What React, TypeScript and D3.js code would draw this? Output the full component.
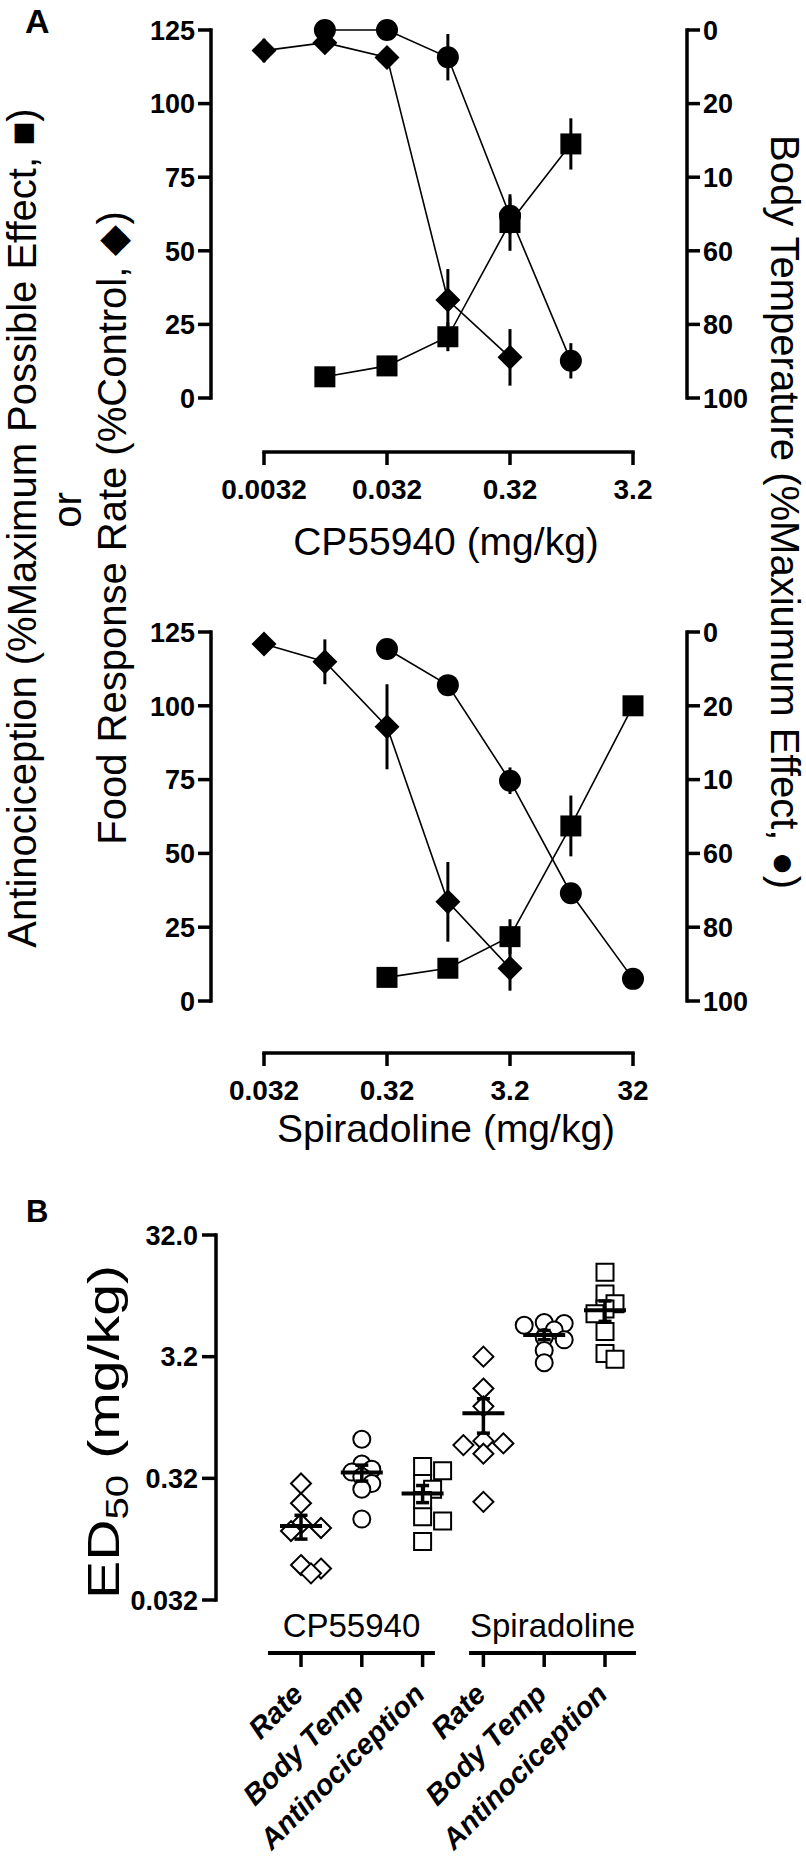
import React from 'react';
import * as d3 from 'd3';

// ---------- DATA ----------
// Panel A, top: CP55940
const cpRateDose = [0.0032, 0.01, 0.032, 0.1, 0.32];
const cpRateMean = [118, 120.7, 115.7, 33.3, 13.8];
const cpRateSem = [4, 2, 3, 10.5, 9.6];
const cpTempDose = [0.01, 0.032, 0.1, 0.32, 1.0];
const cpTempMean = [0, 0, 7.4, 50.5, 89.9];
const cpTempSem = [0, 0, 6.3, 5, 4.8];
const cpAntiDose = [0.01, 0.032, 0.1, 0.32, 1.0];
const cpAntiMean = [7.2, 10.9, 20.8, 59.6, 86.3];
const cpAntiSem = [1, 1, 4.9, 9.6, 8.7];

// Panel A, bottom: Spiradoline
const spRateDose = [0.032, 0.1, 0.32, 1.0, 3.2];
const spRateMean = [120.9, 114.9, 92.9, 33.6, 11.1];
const spRateSem = [1, 7.6, 14.4, 13.5, 7.6];
const spTempDose = [0.32, 1.0, 3.2, 10, 32];
const spTempMean = [4.6, 14.4, 40.3, 70.8, 94.0];
const spTempSem = [0, 0, 3.6, 0, 2];
const spAntiDose = [0.32, 1.0, 3.2, 10, 32];
const spAntiMean = [8.0, 11.1, 21.8, 59.3, 100];
const spAntiSem = [0, 0, 5.9, 10.3, 0];

const leftTicks = [0, 25, 50, 75, 100, 125];
const rightTicks = [0, 20, 40, 60, 80, 100];
const rightTickLabels = ['0', '20', '10', '60', '80', '100'];
const cpXTicks = [0.0032, 0.032, 0.32, 3.2];
const cpXTickLabels = ['0.0032', '0.032', '0.32', '3.2'];
const spXTicks = [0.032, 0.32, 3.2, 32];
const spXTickLabels = ['0.032', '0.32', '3.2', '32'];

// Panel B: individual ED50 values (mg/kg)
const edCategories = ['CP Rate', 'CP Body Temp', 'CP Antinociception', 'SP Rate', 'SP Body Temp', 'SP Antinociception'];
const edCategoryLabels = ['Rate', 'Body Temp', 'Antinociception', 'Rate', 'Body Temp', 'Antinociception'];
const edShapes = ['diamond', 'circle', 'square', 'diamond', 'circle', 'square'];
const edCpRate = [0.29, 0.2, 0.135, 0.125, 0.118, 0.062, 0.058, 0.053];
const edCpTemp = [0.67, 0.42, 0.38, 0.36, 0.33, 0.29, 0.26, 0.148];
const edCpAnti = [0.4, 0.37, 0.29, 0.26, 0.21, 0.155, 0.143, 0.097];
const edSpRate = [3.2, 1.75, 1.25, 0.65, 0.62, 0.6, 0.51, 0.205];
const edSpTemp = [6.1, 6.0, 5.8, 5.3, 4.6, 4.4, 3.6, 2.85];
const edSpAnti = [15.8, 10.5, 8.7, 7.9, 7.2, 5.15, 3.4, 3.05];
const edGroups = ['CP55940', 'Spiradoline'];
const edYTicks = [0.032, 0.32, 3.2, 32];
const edYTickLabels = ['0.032', '0.32', '3.2', '32.0'];

// ---------- STYLE ----------
const FONT = "'Liberation Sans', Arial, Helvetica, sans-serif";
const AX = 3.5;

function markerPath(shape: string, x: number, y: number, s: number) {
  if (shape === 'diamond') return `M${x},${y - s}L${x + s},${y}L${x},${y + s}L${x - s},${y}Z`;
  if (shape === 'square') return `M${x - s},${y - s}H${x + s}V${y + s}H${x - s}Z`;
  return `M${x - s},${y}A${s},${s} 0 1,0 ${x + s},${y}A${s},${s} 0 1,0 ${x - s},${y}Z`;
}

type Series = { dose: number[]; mean: number[]; sem: number[]; shape: string; side: 'L' | 'R' };

function DosePanel(props: {
  top: number; bottom: number; xDomain: [number, number]; series: Series[];
  xTicks: number[]; xTickLabels: string[]; title: string; axisY: number; titleY: number;
}) {
  const { top, bottom, xDomain, series, xTicks, xTickLabels, title, axisY, titleY } = props;
  const x = d3.scaleLog().domain(xDomain).range([264, 633]);
  const yL = d3.scaleLinear().domain([0, 125]).range([bottom, top]);
  const yR = d3.scaleLinear().domain([0, 100]).range([top, bottom]);
  const leftX = 211, rightX = 687, tick = 13;
  const sizes: Record<string, number> = { diamond: 12.5, circle: 11, square: 10.5 };
  return (
    <g>
      {/* left axis */}
      <line x1={leftX} x2={leftX} y1={yL(0) + AX / 2} y2={yL(125) - AX / 2} stroke="#000" strokeWidth={AX} />
      {leftTicks.map((t) => (
        <g key={'l' + t}>
          <line x1={leftX - tick} x2={leftX} y1={yL(t)} y2={yL(t)} stroke="#000" strokeWidth={AX} />
          <text x={leftX - 16} y={yL(t)} dy="0.36em" textAnchor="end" fontSize={27} fontWeight="bold" fontFamily={FONT}>{t}</text>
        </g>
      ))}
      {/* right axis */}
      <line x1={rightX} x2={rightX} y1={yR(0) - AX / 2} y2={yR(100) + AX / 2} stroke="#000" strokeWidth={AX} />
      {rightTicks.map((t, i) => (
        <g key={'r' + t}>
          <line x1={rightX} x2={rightX + tick} y1={yR(t)} y2={yR(t)} stroke="#000" strokeWidth={AX} />
          <text x={rightX + 16} y={yR(t)} dy="0.36em" textAnchor="start" fontSize={27} fontWeight="bold" fontFamily={FONT}>{rightTickLabels[i]}</text>
        </g>
      ))}
      {/* x axis */}
      <line x1={x(xDomain[0]) - AX / 2} x2={x(xDomain[1]) + AX / 2} y1={axisY} y2={axisY} stroke="#000" strokeWidth={AX} />
      {xTicks.map((t, i) => (
        <g key={'x' + t}>
          <line x1={x(t)} x2={x(t)} y1={axisY} y2={axisY + tick} stroke="#000" strokeWidth={AX} />
          <text x={x(t)} y={axisY + 47} textAnchor="middle" fontSize={28} fontWeight="bold" fontFamily={FONT}>{xTickLabels[i]}</text>
        </g>
      ))}
      <text x={446} y={titleY} textAnchor="middle" fontSize={39} fontFamily={FONT}>{title}</text>
      {/* series */}
      {series.map((s, si) => {
        const yS = s.side === 'L' ? yL : yR;
        const pts = s.dose.map((d, i) => [x(d), yS(s.mean[i])] as [number, number]);
        const line = d3.line()(pts) || '';
        return (
          <g key={'s' + si}>
            {s.dose.map((d, i) => (
              <line key={'e' + i} x1={x(d)} x2={x(d)} y1={yS(s.mean[i] - s.sem[i])} y2={yS(s.mean[i] + s.sem[i])} stroke="#000" strokeWidth={3} />
            ))}
            <path d={line} fill="none" stroke="#000" strokeWidth={1.6} />
            {pts.map((p, i) => (
              <path key={'m' + i} d={markerPath(s.shape, p[0], p[1], sizes[s.shape])} fill="#000" />
            ))}
          </g>
        );
      })}
    </g>
  );
}

function swarm(vals: number[], y: (v: number) => number, step: number, diam: number) {
  const order = vals.map((v, i) => i).sort((a, b) => vals[b] - vals[a]);
  const placed: { x: number; y: number }[] = [];
  const offs = new Array(vals.length).fill(0);
  const cands = [0, 1, -1, 2, -2, 3, -3, 4, -4];
  for (const i of order) {
    const yy = y(vals[i]);
    for (const k of cands) {
      const xx = k * step;
      if (placed.every((p) => Math.hypot(p.x - xx, p.y - yy) >= diam)) {
        offs[i] = xx;
        placed.push({ x: xx, y: yy });
        break;
      }
    }
  }
  return offs;
}

function PanelB() {
  const y = d3.scaleLog().domain([0.032, 32]).range([1600, 1235]);
  const x = d3.scalePoint<string>().domain(edCategories).range([301, 605]);
  const groupBand = d3.scaleBand<string>().domain(edGroups).range([268, 636]).paddingInner(0.17);
  const data = [edCpRate, edCpTemp, edCpAnti, edSpRate, edSpTemp, edSpAnti];
  const axisX = 216, lineY = 1653;
  const sizes: Record<string, number> = { diamond: 10, circle: 8.5, square: 8.5 };
  return (
    <g>
      <line x1={axisX} x2={axisX} y1={y(0.032) + AX / 2} y2={y(32) - AX / 2} stroke="#000" strokeWidth={AX} />
      {edYTicks.map((t, i) => (
        <g key={'y' + t}>
          <line x1={axisX - 14} x2={axisX} y1={y(t)} y2={y(t)} stroke="#000" strokeWidth={AX} />
          <text x={axisX - 18} y={y(t)} dy="0.36em" textAnchor="end" fontSize={27} fontWeight="bold" fontFamily={FONT}>{edYTickLabels[i]}</text>
        </g>
      ))}
      <text transform={`translate(119, 1432) rotate(-90) scale(1.3, 1)`} textAnchor="middle" fontSize={44} fontFamily={FONT}>
        ED<tspan fontSize={31} dy="9">50</tspan><tspan dy="-9"> (mg/kg)</tspan>
      </text>
      {data.map((vals, ci) => {
        const cx = x(edCategories[ci]) as number;
        const offs = swarm(vals, y, 10, 11);
        const m = d3.mean(vals) as number;
        const sem = (d3.deviation(vals) as number) / Math.sqrt(vals.length);
        const shape = edShapes[ci];
        return (
          <g key={'c' + ci}>
            {vals.map((v, i) => (
              <path key={i} d={markerPath(shape, cx + offs[i], y(v), sizes[shape])} fill="#fff" stroke="#000" strokeWidth={2} />
            ))}
            <line x1={cx - 21} x2={cx + 21} y1={y(m)} y2={y(m)} stroke="#000" strokeWidth={4} />
            <line x1={cx} x2={cx} y1={y(m - sem)} y2={y(m + sem)} stroke="#000" strokeWidth={3.5} />
            <line x1={cx - 6.5} x2={cx + 6.5} y1={y(m - sem)} y2={y(m - sem)} stroke="#000" strokeWidth={3.5} />
            <line x1={cx - 6.5} x2={cx + 6.5} y1={y(m + sem)} y2={y(m + sem)} stroke="#000" strokeWidth={3.5} />
            <line x1={cx} x2={cx} y1={lineY} y2={lineY + 14} stroke="#000" strokeWidth={AX} />
            <text transform={`translate(${cx + 4}, ${lineY + 43}) rotate(-45)`} textAnchor="end" fontSize={29} fontWeight="bold" fontStyle="italic" fontFamily={FONT}>{edCategoryLabels[ci]}</text>
          </g>
        );
      })}
      {edGroups.map((g) => (
        <g key={g}>
          <line x1={groupBand(g) as number} x2={(groupBand(g) as number) + groupBand.bandwidth()} y1={lineY} y2={lineY} stroke="#000" strokeWidth={4} />
          <text x={(groupBand(g) as number) + groupBand.bandwidth() / 2} y={lineY - 16} textAnchor="middle" fontSize={33} fontFamily={FONT}>{g}</text>
        </g>
      ))}
    </g>
  );
}

export default function App() {
  const cpSeries: Series[] = [
    { dose: cpRateDose, mean: cpRateMean, sem: cpRateSem, shape: 'diamond', side: 'L' },
    { dose: cpTempDose, mean: cpTempMean, sem: cpTempSem, shape: 'circle', side: 'R' },
    { dose: cpAntiDose, mean: cpAntiMean, sem: cpAntiSem, shape: 'square', side: 'L' },
  ];
  const spSeries: Series[] = [
    { dose: spRateDose, mean: spRateMean, sem: spRateSem, shape: 'diamond', side: 'L' },
    { dose: spTempDose, mean: spTempMean, sem: spTempSem, shape: 'circle', side: 'R' },
    { dose: spAntiDose, mean: spAntiMean, sem: spAntiSem, shape: 'square', side: 'L' },
  ];
  return (
    <svg width={806} height={1859} viewBox="0 0 806 1859" style={{ position: 'absolute', left: 0, top: 0, background: '#fff' }} fontFamily={FONT}>
      <rect width={806} height={1859} fill="#fff" />
      <text x={25} y={33} fontSize={34} fontWeight="bold" fontFamily={FONT}>A</text>
      <text x={26} y={1222} fontSize={31} fontWeight="bold" fontFamily={FONT}>B</text>
      <DosePanel top={30} bottom={398} xDomain={[0.0032, 3.2]} series={cpSeries} xTicks={cpXTicks} xTickLabels={cpXTickLabels} title="CP55940 (mg/kg)" axisY={452} titleY={555} />
      <DosePanel top={632} bottom={1001} xDomain={[0.032, 32]} series={spSeries} xTicks={spXTicks} xTickLabels={spXTickLabels} title="Spiradoline (mg/kg)" axisY={1053} titleY={1142} />
      {/* left titles */}
      <text transform="translate(36, 528) rotate(-90)" textAnchor="middle" fontSize={40} fontFamily={FONT}>Antinociception (%Maximum Possible Effect, ■)</text>
      <text transform="translate(81, 510) rotate(-90)" textAnchor="middle" fontSize={40} fontFamily={FONT}>or</text>
      <text transform="translate(126, 528) rotate(-90)" textAnchor="middle" fontSize={40} fontFamily={FONT}>Food Response Rate (%Control, ◆)</text>
      {/* right title */}
      <text transform="translate(771, 512) rotate(90)" textAnchor="middle" fontSize={40} fontFamily={FONT}>Body Temperature (%Maxiumum Effect, ●)</text>
      <PanelB />
    </svg>
  );
}
